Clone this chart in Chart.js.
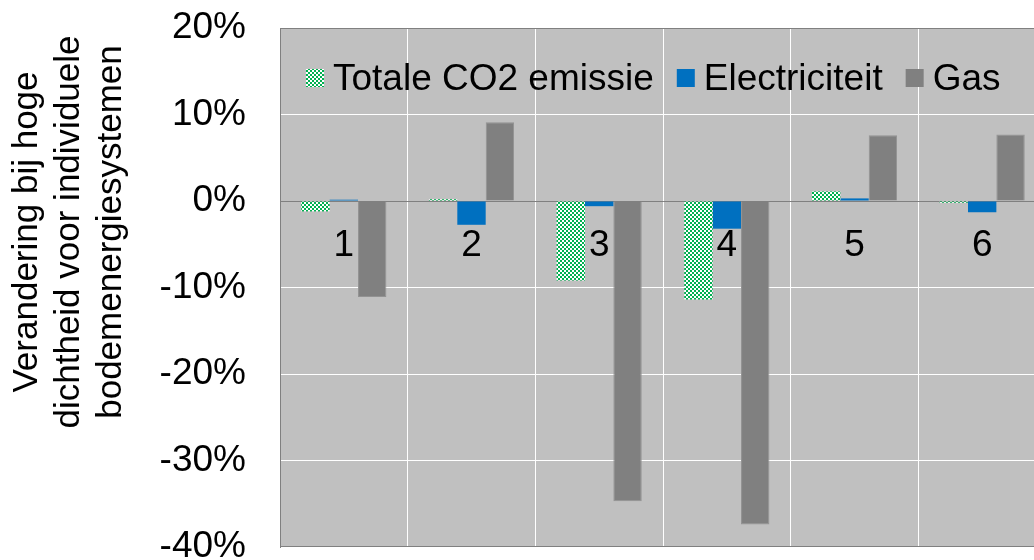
<!DOCTYPE html>
<html>
<head>
<meta charset="utf-8">
<script src="https://cdn.jsdelivr.net/npm/chart.js@4.4.0/dist/chart.umd.min.js"></script>
<style>
    html, body { margin: 0; padding: 0; background: #fff; overflow: hidden; }
    canvas { display: block; }
</style>
</head>
<body>
<canvas id="chart" width="1047" height="560"></canvas>
<script>
const categories = ['1', '2', '3', '4', '5', '6'];
const co2Values = [-1.2, 0.2, -9.2, -11.4, 1.1, -0.2];
const elecValues = [0.15, -2.75, -0.6, -3.2, 0.3, -1.3];
const gasValues = [-11.1, 9.1, -34.7, -37.4, 7.6, 7.7];
const seriesNames = ['Totale CO2 emissie', 'Electriciteit', 'Gas'];
const yTicks = [20, 10, 0, -10, -20, -30, -40];
const yTitle = ['Verandering bij hoge', 'dichtheid voor individuele', 'bodemenergiesystemen'];

const FONT = "'Liberation Sans', Arial, sans-serif";

// small green/white checker, like the Excel pattern fill
function makeChecker() {
    const c = document.createElement('canvas');
    c.width = 4;
    c.height = 4;
    const g = c.getContext('2d');
    g.fillStyle = '#ffffff';
    g.fillRect(0, 0, 4, 4);
    g.fillStyle = '#00b050';
    g.fillRect(0, 0, 2, 2);
    g.fillRect(2, 2, 2, 2);
    return g.createPattern(c, 'repeat');
}
const checker = makeChecker();

const plotBackground = {
    id: 'plotBackground',
    beforeDraw(chart) {
        const { ctx, chartArea: a } = chart;
        ctx.save();
        ctx.fillStyle = '#c0c0c0';
        ctx.fillRect(a.left, a.top, a.right - a.left, a.bottom - a.top);
        ctx.restore();
    },
    afterDraw(chart) {
        const { ctx, chartArea: a } = chart;
        ctx.save();
        ctx.strokeStyle = '#808080';
        ctx.lineWidth = 1;
        ctx.strokeRect(a.left + 0.5, a.top + 0.5, a.right - a.left - 1, a.bottom - a.top - 1);

        // legend inside the plot area
        ctx.font = '37px ' + FONT;
        ctx.textBaseline = 'middle';
        ctx.textAlign = 'left';
        let x = a.left + 26;
        const y = a.top + 50;
        chart.data.datasets.forEach(function (ds) {
            ctx.fillStyle = ds.backgroundColor;
            ctx.fillRect(x, y - 9, 18, 18);
            x += 18 + 9;
            ctx.fillStyle = '#000';
            ctx.fillText(ds.label, x, y + 2);
            x += ctx.measureText(ds.label).width + 23;
        });

        // rotated y axis title, three centred lines
        ctx.font = '35px ' + FONT;
        ctx.textAlign = 'center';
        ctx.translate(0, 232);
        ctx.rotate(-Math.PI / 2);
        yTitle.forEach(function (line, i) {
            ctx.fillText(line, 0, 27 + i * 42);
        });
        ctx.restore();
    }
};

new Chart(document.getElementById('chart'), {
    type: 'bar',
    data: {
        labels: categories,
        datasets: [
            { label: seriesNames[0], data: co2Values, backgroundColor: checker },
            { label: seriesNames[1], data: elecValues, backgroundColor: '#0070c0' },
            { label: seriesNames[2], data: gasValues, backgroundColor: '#808080', borderColor: '#929292', borderWidth: 1 }
        ]
    },
    options: {
        responsive: false,
        animation: false,
        layout: { padding: { top: 28, bottom: 13, right: 1, left: 0 } },
        datasets: {
            bar: { categoryPercentage: 0.667, barPercentage: 1.0 }
        },
        plugins: {
            legend: { display: false },
            tooltip: { enabled: false }
        },
        scales: {
            x: {
                position: { y: 0 },
                offset: true,
                afterFit(scale) { scale.height = 0; },
                grid: { color: '#ffffff', lineWidth: 1, drawTicks: false, offset: true },
                border: { display: true, color: '#808080', width: 1 },
                ticks: { font: { family: FONT, size: 37 }, color: '#000', padding: 23, maxRotation: 0 }
            },
            y: {
                min: -40,
                max: 20,
                afterFit(scale) {
                    scale.width = 280;
                    // let the end labels stick out past the plot, as in the original
                    scale.paddingTop = 0;
                    scale.paddingBottom = 0;
                },
                afterBuildTicks(scale) { scale.ticks = yTicks.map(v => ({ value: v })); },
                grid: {
                    color: ctx => (ctx.tick && ctx.tick.value === 0 ? '#808080' : '#ffffff'),
                    lineWidth: 1,
                    drawTicks: false
                },
                border: { display: true, color: '#808080', width: 1 },
                ticks: {
                    font: { family: FONT, size: 37 },
                    color: '#000',
                    padding: 34,
                    callback: v => v + '%'
                }
            }
        }
    },
    plugins: [plotBackground]
});
</script>
</body>
</html>
